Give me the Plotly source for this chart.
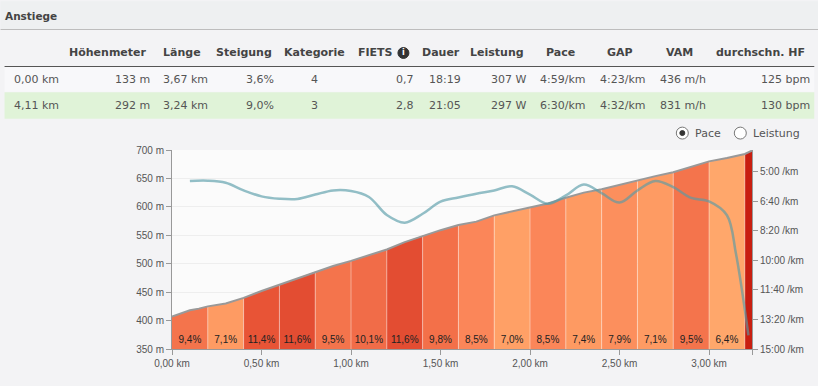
import plotly.graph_objects as go

W, H = 818, 386
L, R, T, B = 171.5, 751.7, 149.5, 349.5

# --- profile data
seg_starts = [0.0,0.2,0.4,0.6,0.8,1.0,1.2,1.4,1.6,1.8,2.0,2.2,2.4,2.6,2.8,3.0,3.2]
seg_labels = ["9,4%","7,1%","11,4%","11,6%","9,5%","10,1%","11,6%","9,8%","8,5%","7,0%","8,5%","7,4%","7,9%","7,1%","9,5%","6,4%",""]
seg_colors = ["#f4744c","#fe9b63","#e85436","#e34d32","#f4744c","#f16c48","#e34d32","#f37049",
              "#fb8659","#ffa066","#fb8659","#fe9a62","#fc8f5d","#fe9b63","#f4744c","#ffa76b","#c81e10"]
seg_km_end = 3.24
km = [0.0,0.05,0.1,0.15,0.2,0.3,0.4,0.5,0.6,0.7,0.8,0.9,1.0,1.1,1.2,1.3,1.4,1.5,1.6,1.7,1.8,1.9,2.0,2.1,2.2,2.3,2.4,2.5,2.6,2.7,2.8,2.9,3.0,3.1,3.2,3.24]
elev = [407,412,418,421,425,430,440,452,463,475,486,496,505,515,525,538,549,559,568,574,585,592,599,606,616,625,631,639,647,654,661,671,680,686,693,699]
pace_km = [0.1,0.2,0.3,0.4,0.5,0.6,0.7,0.8,0.9,1.0,1.1,1.2,1.3,1.4,1.5,1.6,1.7,1.8,1.9,2.0,2.1,2.2,2.3,2.4,2.5,2.6,2.7,2.8,2.9,3.0,3.1,3.15,3.2,3.22]
pace_s = [331,330,337,363,383,391,392,377,363,365,385,446,472,442,401,387,374,363,349,377,408,380,343,372,404,363,331,352,388,400,447,576,767,854]
y_ticks = [350,400,450,500,550,600,650,700]
x_ticks = [0,0.5,1,1.5,2,2.5,3,3.24]
x_ticktext = ["0,00 km","0,50 km","1,00 km","1,50 km","2,00 km","2,50 km","3,00 km",""]
pace_ticks = [300,400,500,600,700,800,900]
pace_ticktext = ["5:00 /km","6:40 /km","8:20 /km","10:00 /km","11:40 /km","13:20 /km","15:00 /km"]

# --- table data
headers = ["Höhenmeter","Länge","Steigung","Kategorie","FIETS","Dauer","Leistung","Pace","GAP","VAM","durchschn. HF"]
header_x = [146,181.5,244,314.5,358,440.5,497,560,619.5,679.5,805]
header_anchor = ["right","center","center","center","left","center","center","center","center","center","right"]
row1 = ["0,00 km","133 m","3,67 km","3,6%","4","0,7","18:19","307 W","4:59/km","4:23/km","436 m/h","125 bpm"]
row2 = ["4,11 km","292 m","3,24 km","9,0%","3","2,8","21:05","297 W","6:30/km","4:32/km","831 m/h","130 bpm"]
cell_x = [13,149,162,274,314.5,414,445,526,562.5,622.5,682.5,810]
cell_anchor = ["left","right","left","right","center","right","center","right","center","center","center","right"]

def px(x): return (x-L)/(R-L)
def py(y): return (B-y)/(B-T)

fig = go.Figure()
ends = seg_starts[1:]+[seg_km_end]
def elev_at(k):
    for i in range(len(km)-1):
        if km[i] <= k <= km[i+1]:
            return elev[i]+(elev[i+1]-elev[i])*(k-km[i])/(km[i+1]-km[i])
    return elev[-1]
for s,e,c in zip(seg_starts,ends,seg_colors):
    xs=[k for k in km if s<=k<=e]
    ys=[elev_at(k) for k in xs]
    fig.add_trace(go.Scatter(x=xs,y=ys,mode="lines",line=dict(width=0),fill="tozeroy",fillcolor=c,hoverinfo="skip",showlegend=False))
for s in seg_starts[1:]:
    fig.add_trace(go.Scatter(x=[s,s],y=[350,elev_at(s)],mode="lines",line=dict(color="rgba(255,255,255,0.4)",width=1),hoverinfo="skip",showlegend=False))
fig.add_trace(go.Scatter(x=km,y=elev,mode="lines",line=dict(color="#999999",width=2),hoverinfo="skip",showlegend=False))
mids=[(s+e)/2 for s,e in zip(seg_starts,ends)]
fig.add_trace(go.Scatter(x=mids,y=[365]*len(mids),text=seg_labels,mode="text",
    textfont=dict(family="Liberation Sans",size=10,color="#222"),hoverinfo="skip",showlegend=False))
fig.add_trace(go.Scatter(x=pace_km,y=pace_s,yaxis="y2",mode="lines",
    line=dict(color="rgba(86,155,167,0.64)",width=2.5,shape="spline",smoothing=1),hoverinfo="skip",showlegend=False))

ann=[]; shapes=[]
def text(x,y,t,anchor="left",size=11,color="#555",family="DejaVu Sans",bold=False):
    ann.append(dict(x=px(x),y=py(y),xref="paper",yref="paper",xanchor=anchor,yanchor="middle",showarrow=False,
        text=f"<b>{t}</b>" if bold else t,font=dict(family=family,size=size,color=color),borderpad=0,borderwidth=0))
def rect(x0,y0,x1,y1,c):
    shapes.append(dict(type="rect",xref="paper",yref="paper",x0=px(x0),x1=px(x1),y0=py(y0),y1=py(y1),fillcolor=c,line=dict(width=0),layer="below"))
def circ(cx,cy,r,fill,line,lw=1):
    shapes.append(dict(type="circle",xref="paper",yref="paper",x0=px(cx-r),x1=px(cx+r),y0=py(cy-r),y1=py(cy+r),fillcolor=fill,line=dict(color=line,width=lw),layer="above"))

rect(0,0,W,28,"#eef0f1"); rect(0,28,W,29,"#bdbdbd")
rect(4,65,814,66,"#555555")
rect(4,66,814,91,"#f8f8fa"); rect(4,91.5,814,118,"#e0f3d8")
text(4,14.5,"Anstiege",size=10.5,color="#444",bold=True)
for t,x,a in zip(headers,header_x,header_anchor):
    text(x,52,t,a,size=11,color="#444",bold=True)
circ(403,52,5.5,"#333","#333")
text(403,52,"<b>i</b>","center",size=8,color="#fff")
for row,y in ((row1,79),(row2,105)):
    for t,x,a in zip(row,cell_x,cell_anchor):
        text(x,y,t,a,size=11,color="#555")
circ(682,132.5,6,"#fff","#777"); circ(682,132.5,2.5,"#333","#333")
circ(740,132.5,6,"#fff","#777")
text(695,132.5,"Pace",size=11); text(753,132.5,"Leistung",size=11)

axfont=dict(family="Liberation Sans",size=10,color="#555")
fig.update_layout(width=W,height=H,autosize=False,margin=dict(l=L,r=W-R,t=T,b=H-B),
    paper_bgcolor="#f3f3f5",plot_bgcolor="#fbfbfb",annotations=ann,shapes=shapes,showlegend=False,
    xaxis=dict(range=[0,seg_km_end],tickvals=x_ticks,ticktext=x_ticktext,showgrid=False,zeroline=False,
        ticks="outside",ticklen=5,tickcolor="#999",showline=True,linecolor="#999",linewidth=1,tickfont=axfont),
    yaxis=dict(range=[350,700],tickvals=y_ticks,ticktext=[f"{v} m" for v in y_ticks],gridcolor="#eeeeee",zeroline=False,
        ticks="outside",ticklen=5,tickcolor="#999",showline=True,linecolor="#999",linewidth=1,tickfont=axfont),
    yaxis2=dict(overlaying="y",side="right",range=[900,226],tickvals=pace_ticks,ticktext=pace_ticktext,showgrid=False,zeroline=False,
        ticks="outside",ticklen=5,tickcolor="#999",showline=True,linecolor="#999",linewidth=1,tickfont=axfont))
fig.write_html("out.html",config=dict(displayModeBar=False),
    post_script="document.body.style.margin='0';document.body.style.background='#f3f3f5';document.documentElement.style.overflow='hidden';")
